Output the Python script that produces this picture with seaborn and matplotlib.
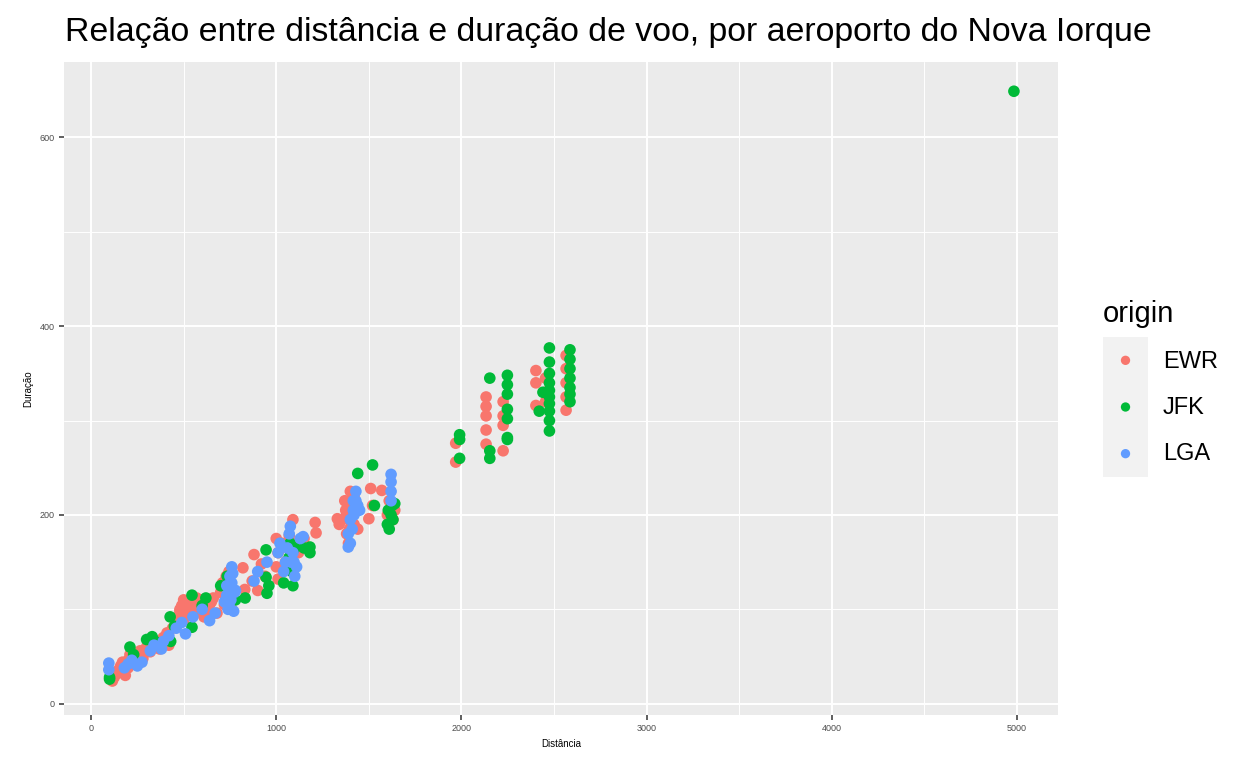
import matplotlib
matplotlib.use('Agg')
import matplotlib.pyplot as plt
from matplotlib.ticker import MultipleLocator
import numpy as np
import pandas as pd
import seaborn as sns

# Distance / air time per origin airport
ewr_dist = [115, 125, 140, 150, 160, 170, 185, 200, 200, 210, 220, 230, 250, 265, 280, 300, 320, 340,
            370, 390, 410, 420, 440, 460, 470, 480, 490, 500, 510, 520, 540, 560, 580, 600, 610, 620,
            640, 660, 680, 700, 710, 720, 730, 740, 750, 760, 820, 830, 870, 880, 900, 920, 940, 1000,
            1010, 1000, 1010, 1050, 1090, 1100, 1150, 1210, 1215, 1330, 1340, 1370, 1380, 1380, 1390,
            1400, 1410, 1420, 1440, 1500, 1510, 1520, 1570, 1600, 1610, 1630, 1640,
            480, 500, 520, 530, 550, 570, 590, 630, 650, 715, 725, 745, 1030, 1070, 1120,
            1390, 1400, 1420, 1375, 1395,
            1969, 1969, 2133, 2133, 2133, 2133, 2133, 2225, 2225, 2225, 2225, 2402, 2402, 2402,
            2454, 2454, 2454, 2565, 2565, 2565, 2565, 2565]
ewr_time = [24, 28, 32, 36, 40, 44, 30, 38, 46, 52, 48, 42, 50, 56, 48, 60, 55, 62,
            58, 70, 75, 62, 80, 85, 92, 98, 104, 88, 95, 108, 100, 96, 106, 110, 92, 100,
            105, 112, 96, 118, 128, 105, 135, 112, 122, 100, 144, 121, 130, 158, 120, 148, 135, 175,
            160, 145, 132, 150, 195, 170, 175, 192, 181, 196, 190, 215, 200, 180, 170,
            225, 205, 190, 185, 196, 228, 210, 226, 200, 215, 195, 205,
            100, 110, 95, 102, 108, 112, 98, 95, 108, 120, 130, 140, 170, 178, 160,
            195, 210, 220, 205, 185,
            276, 256, 325, 315, 305, 290, 275, 320, 305, 295, 268, 353, 340, 316,
            345, 330, 320, 369, 355, 340, 325, 311]

jfk_dist = [100, 100, 210, 230, 300, 330, 345, 427, 430, 450, 545, 545, 600, 620, 700, 735, 760, 780,
            832, 945, 945, 950, 960, 1040, 1060, 1075, 1080, 1085, 1090, 1150, 1182, 1182, 1440, 1520,
            1530, 1600, 1610, 1620, 1626, 1630, 1640, 1070, 1100, 740, 1605,
            1990, 1990, 1990, 2153, 2153, 2153, 2248, 2248, 2248, 2248, 2248, 2248, 2248,
            2475, 2475, 2475, 2475, 2475, 2475, 2475, 2475, 2475, 2475, 2440, 2420,
            2586, 2586, 2586, 2586, 2586, 2586, 2586, 4983]
jfk_time = [26, 28, 60, 52, 68, 71, 66, 92, 66, 82, 115, 81, 104, 112, 125, 135, 117, 110,
            112, 163, 134, 117, 125, 128, 150, 170, 160, 140, 125, 165, 166, 160, 244, 253,
            210, 190, 185, 200, 210, 195, 212, 155, 165, 128, 205,
            285, 280, 260, 345, 268, 260, 348, 338, 328, 312, 302, 282, 280,
            377, 362, 350, 340, 332, 325, 318, 310, 300, 289, 330, 310,
            375, 365, 355, 345, 335, 328, 320, 649]

lga_dist = [96, 96, 180, 200, 220, 250, 275, 320, 340, 380, 390, 420, 460, 490, 510, 550, 600, 640,
            670, 720, 733, 733, 740, 750, 760, 770, 780, 880, 900, 950, 1010, 1020, 1040, 1050, 1070,
            1076, 1096, 1100, 1130, 1145, 1389, 1389, 1400, 1416, 1416, 1430, 1440, 1450,
            745, 755, 760, 765, 775, 1060, 1080, 1090, 1110, 1400, 1410, 1420, 1430,
            1620, 1620, 1620, 1620]
lga_time = [43, 36, 38, 42, 46, 40, 44, 56, 62, 58, 66, 72, 80, 86, 74, 92, 100, 88,
            96, 108, 115, 125, 100, 135, 145, 98, 120, 130, 140, 150, 160, 170, 140, 150, 180,
            188, 150, 135, 175, 177, 166, 180, 195, 205, 215, 225, 210, 205,
            105, 110, 128, 138, 118, 165, 150, 160, 145, 170, 185, 200, 215,
            225, 235, 243, 215]

origins = ['EWR', 'JFK', 'LGA']
colors = ['#F8766D', '#00BA38', '#619CFF']

voos = pd.DataFrame({
    'distance': ewr_dist + jfk_dist + lga_dist,
    'air_time': ewr_time + jfk_time + lga_time,
    'origin': ['EWR'] * len(ewr_dist) + ['JFK'] * len(jfk_dist) + ['LGA'] * len(lga_dist),
})

sns.set_theme(style='darkgrid')
plt.rcParams['font.family'] = ['Liberation Sans', 'DejaVu Sans']

fig = plt.figure(figsize=(12.48, 7.68), dpi=100)
ax = fig.add_axes([64 / 1248, 53 / 768, 994 / 1248, 653 / 768])
ax.set_facecolor('#EBEBEB')

sns.scatterplot(data=voos, x='distance', y='air_time', hue='origin', hue_order=origins,
                palette=dict(zip(origins, colors)), s=70, linewidth=0, alpha=1,
                legend=False, ax=ax)

ax.set_xlim(-146, 5221)
ax.set_ylim(-12, 680)
ax.xaxis.set_major_locator(MultipleLocator(1000))
ax.yaxis.set_major_locator(MultipleLocator(200))
ax.xaxis.set_minor_locator(MultipleLocator(500))
ax.yaxis.set_minor_locator(MultipleLocator(100))
ax.grid(which='major', color='white', linewidth=1.4)
ax.grid(which='minor', color='white', linewidth=0.7)
ax.set_axisbelow(True)
for s in ax.spines.values():
    s.set_visible(False)
ax.tick_params(which='major', length=3.5, width=1.1, color='#333333', labelsize=6.5,
               labelcolor='#4D4D4D', pad=3, bottom=True, left=True)
ax.tick_params(which='minor', length=0)
ax.set_xlabel('Distância', fontsize=7, color='black', labelpad=4)
ax.set_ylabel('Duração', fontsize=7, color='black', labelpad=5)

fig.text(65 / 1248, 1 - 41 / 768, 'Relação entre distância e duração de voo, por aeroporto do Nova Iorque',
         fontsize=24.4, color='black', ha='left', va='baseline')

# legend drawn by hand in ggplot style
lax = fig.add_axes([1103 / 1248, (768 - 477) / 768, 45 / 1248, 140 / 768])
lax.set_facecolor('#F2F2F2')
leg = pd.DataFrame({'x': [0, 0, 0], 'y': [2, 1, 0], 'origin': origins})
sns.scatterplot(data=leg, x='x', y='y', hue='origin', hue_order=origins,
                palette=dict(zip(origins, colors)), s=45, linewidth=0, legend=False, ax=lax)
lax.set_xlim(-1, 1)
lax.set_ylim(-0.5, 2.5)
lax.set_axis_off()
lax.add_patch(plt.Rectangle((0, 0), 1, 1, transform=lax.transAxes, color='#F2F2F2', zorder=0))
for i, name in enumerate(origins):
    fig.text(1163 / 1248, 1 - (362 + 46 * i) / 768, name, fontsize=17, va='center', ha='left',
             color='black')
fig.text(1103 / 1248, 1 - 322 / 768, 'origin', fontsize=21, va='baseline', ha='left', color='black')

fig.savefig('out.png', dpi=100, facecolor='white')
